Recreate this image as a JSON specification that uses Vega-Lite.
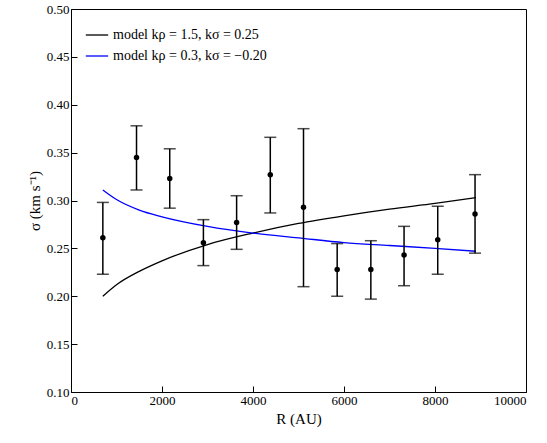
{
  "$schema": "https://vega.github.io/schema/vega-lite/v6.json",
  "width": 455,
  "height": 383,
  "padding": {"left": 27, "top": 3, "right": 5, "bottom": 5},
  "background": "white",
  "config": {
    "font": "Liberation Serif",
    "view": {"stroke": "black", "strokeWidth": 1},
    "axis": {"grid": false, "domainColor": "black", "tickColor": "black", "tickSize": -6, "labelFontSize": 13, "titleFontSize": 15, "labelColor": "black", "titleColor": "black", "labelPadding": 8, "labelFont": "Liberation Serif", "titleFont": "Liberation Serif", "titleFontWeight": "normal"}
  },
  "datasets": {
    "obs": [
      {"R": 700, "s": 0.261, "lo": 0.223, "hi": 0.298},
      {"R": 1440, "s": 0.345, "lo": 0.311, "hi": 0.378},
      {"R": 2170, "s": 0.323, "lo": 0.292, "hi": 0.354},
      {"R": 2910, "s": 0.256, "lo": 0.232, "hi": 0.280},
      {"R": 3640, "s": 0.277, "lo": 0.249, "hi": 0.305},
      {"R": 4380, "s": 0.327, "lo": 0.287, "hi": 0.366},
      {"R": 5110, "s": 0.293, "lo": 0.210, "hi": 0.375},
      {"R": 5850, "s": 0.228, "lo": 0.200, "hi": 0.255},
      {"R": 6590, "s": 0.228, "lo": 0.197, "hi": 0.258},
      {"R": 7320, "s": 0.243, "lo": 0.211, "hi": 0.273},
      {"R": 8060, "s": 0.259, "lo": 0.223, "hi": 0.294},
      {"R": 8880, "s": 0.286, "lo": 0.245, "hi": 0.327}
    ],
    "model": [
      {"R": 700, "s": 0.200, "m": "model kρ = 1.5,  kσ = 0.25"},
      {"R": 1000, "s": 0.212, "m": "model kρ = 1.5,  kσ = 0.25"},
      {"R": 1500, "s": 0.226, "m": "model kρ = 1.5,  kσ = 0.25"},
      {"R": 2000, "s": 0.237, "m": "model kρ = 1.5,  kσ = 0.25"},
      {"R": 3000, "s": 0.254, "m": "model kρ = 1.5,  kσ = 0.25"},
      {"R": 4000, "s": 0.266, "m": "model kρ = 1.5,  kσ = 0.25"},
      {"R": 5000, "s": 0.276, "m": "model kρ = 1.5,  kσ = 0.25"},
      {"R": 6000, "s": 0.284, "m": "model kρ = 1.5,  kσ = 0.25"},
      {"R": 7000, "s": 0.291, "m": "model kρ = 1.5,  kσ = 0.25"},
      {"R": 8000, "s": 0.297, "m": "model kρ = 1.5,  kσ = 0.25"},
      {"R": 8900, "s": 0.303, "m": "model kρ = 1.5,  kσ = 0.25"},
      {"R": 700, "s": 0.311, "m": "model kρ = 0.3,  kσ = −0.20"},
      {"R": 1000, "s": 0.301, "m": "model kρ = 0.3,  kσ = −0.20"},
      {"R": 1500, "s": 0.290, "m": "model kρ = 0.3,  kσ = −0.20"},
      {"R": 2000, "s": 0.283, "m": "model kρ = 0.3,  kσ = −0.20"},
      {"R": 3000, "s": 0.273, "m": "model kρ = 0.3,  kσ = −0.20"},
      {"R": 4000, "s": 0.266, "m": "model kρ = 0.3,  kσ = −0.20"},
      {"R": 5000, "s": 0.261, "m": "model kρ = 0.3,  kσ = −0.20"},
      {"R": 6000, "s": 0.256, "m": "model kρ = 0.3,  kσ = −0.20"},
      {"R": 7000, "s": 0.253, "m": "model kρ = 0.3,  kσ = −0.20"},
      {"R": 8000, "s": 0.250, "m": "model kρ = 0.3,  kσ = −0.20"},
      {"R": 8900, "s": 0.247, "m": "model kρ = 0.3,  kσ = −0.20"}
    ]
  },
  "encoding": {
    "x": {"field": "R", "type": "quantitative", "title": "R (AU)", "scale": {"domain": [0, 10000], "nice": false}, "axis": {"values": [0, 2000, 4000, 6000, 8000, 10000], "format": "d"}},
    "y": {"field": "s", "type": "quantitative", "title": "σ (km s⁻¹)", "scale": {"domain": [0.1, 0.5], "nice": false, "zero": false}, "axis": {"values": [0.1, 0.15, 0.2, 0.25, 0.3, 0.35, 0.4, 0.45, 0.5], "format": ".2f"}}
  },
  "layer": [
    {
      "data": {"name": "model"},
      "mark": {"type": "line", "strokeWidth": 1.3, "interpolate": "monotone"},
      "encoding": {
        "color": {"field": "m", "type": "nominal", "scale": {"domain": ["model kρ = 1.5,  kσ = 0.25", "model kρ = 0.3,  kσ = −0.20"], "range": ["black", "blue"]},
          "legend": {"title": null, "orient": "top-left", "symbolType": "stroke", "symbolSize": 500, "symbolStrokeWidth": 1.3, "labelFontSize": 14, "labelFont": "Liberation Serif", "labelColor": "black", "offset": 14}}
      }
    },
    {
      "data": {"name": "obs"},
      "mark": {"type": "rule", "color": "black", "strokeWidth": 1.5},
      "encoding": {"y": {"field": "lo", "type": "quantitative"}, "y2": {"field": "hi"}}
    },
    {
      "data": {"name": "obs"},
      "mark": {"type": "tick", "color": "black", "orient": "horizontal", "size": 12, "thickness": 1.5},
      "encoding": {"y": {"field": "lo", "type": "quantitative"}}
    },
    {
      "data": {"name": "obs"},
      "mark": {"type": "tick", "color": "black", "orient": "horizontal", "size": 12, "thickness": 1.5},
      "encoding": {"y": {"field": "hi", "type": "quantitative"}}
    },
    {
      "data": {"name": "obs"},
      "mark": {"type": "point", "filled": true, "color": "black", "size": 30, "opacity": 1}
    }
  ]
}
